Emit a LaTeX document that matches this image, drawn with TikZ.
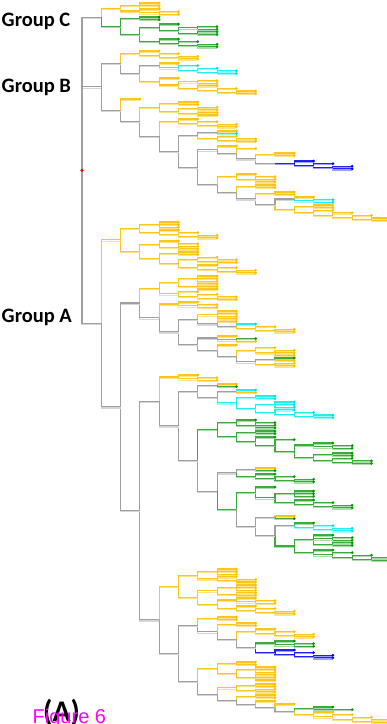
\documentclass[tikz,border=0pt]{standalone}
\usepackage{fontspec}
\setmainfont{Carlito}
\newfontfamily\figfont{Liberation Sans}

\pgfdeclarelayer{dots}
\pgfsetlayers{main,dots}

\definecolor{lnY}{HTML}{FFC61A}
\definecolor{paY}{HTML}{FFE38C}
\definecolor{dtY}{HTML}{FFC000}
\definecolor{lnG}{HTML}{3DAA3D}
\definecolor{paG}{HTML}{A8DCA8}
\definecolor{dtG}{HTML}{009900}
\definecolor{lnC}{HTML}{1EEFEF}
\definecolor{paC}{HTML}{A0FAFA}
\definecolor{dtC}{HTML}{00E0E0}
\definecolor{lnB}{HTML}{2020FF}
\definecolor{paB}{HTML}{9E9EFF}
\definecolor{dtB}{HTML}{0000FF}
\definecolor{lnA}{HTML}{A0A0A0}
\definecolor{paA}{HTML}{D6D6D6}
\definecolor{mag}{HTML}{FF00FF}

\tikzset{
  ey/.style={draw=lnY, line width=1.1pt},
  eg/.style={draw=lnG, line width=1.1pt},
  ec/.style={draw=lnC, line width=1.1pt},
  eb/.style={draw=lnB, line width=1.1pt},
  ea/.style={draw=lnA, line width=1.1pt},
  uy/.style={draw=paY, line width=1.1pt, transform canvas={yshift=-1.2pt}},
  ug/.style={draw=paG, line width=1.1pt, transform canvas={yshift=-1.2pt}},
  uc/.style={draw=paC, line width=1.1pt, transform canvas={yshift=-1.2pt}},
  ub/.style={draw=paB, line width=1.1pt, transform canvas={yshift=-1.2pt}},
  ua/.style={draw=paA, line width=1.1pt, transform canvas={yshift=-1.2pt}},
  dy/.style={fill=dtY},
  dg/.style={fill=dtG},
  dc/.style={fill=dtC},
  db/.style={fill=dtB},
  grplabel/.style={font=\fontsize{20.5}{24}\selectfont\bfseries, inner sep=0pt, anchor=base west},
}

% tree helpers: \Nd{colour}{children}, \Lf{colour}, \Yat{y}
\newcount\nid
\newcount\dep
\newdimen\ypos
\def\lstep{2.6pt}
\def\xorg{82}
\def\stepx{19.3}
\def\curpar{top}
\def\regkid{%
  \expandafter\ifx\csname first@\curpar\endcsname\relax
    \expandafter\xdef\csname first@\curpar\endcsname{\me}%
  \fi
  \expandafter\xdef\csname last@\curpar\endcsname{\me}%
  \expandafter\xdef\csname kids@\curpar\endcsname{%
    \unexpanded\expandafter\expandafter\expandafter{\csname kids@\curpar\endcsname}%
    \noexpand\do{\me}}}
\newcommand\Yat[1]{\global\ypos=#1pt\relax}
\newcommand\Lf[1]{%
  \global\advance\nid by 1
  \begingroup
    \edef\me{n\the\nid}%
    \regkid
    \expandafter\xdef\csname col@\me\endcsname{#1}%
    \pgfmathsetmacro\yy{\ypos}%
    \expandafter\xdef\csname y@\me\endcsname{\yy}%
    \pgfmathsetmacro\xx{\xorg+\the\dep*\stepx}%
    \coordinate (\me) at (\xx,-\yy);
    \global\advance\ypos by \lstep
    \begin{pgfonlayer}{dots}
      \fill[d#1] (\me) circle (1.5);
    \end{pgfonlayer}
  \endgroup}
\newcommand\Nd[2]{%
  \global\advance\nid by 1
  \begingroup
    \edef\me{n\the\nid}%
    \regkid
    \expandafter\xdef\csname col@\me\endcsname{#1}%
    \expandafter\gdef\csname kids@\me\endcsname{}%
    \let\curpar\me
    \advance\dep by 1
    #2%
    \advance\dep by -1
    \edef\kf{\csname first@\me\endcsname}%
    \edef\kl{\csname last@\me\endcsname}%
    \edef\ya{\csname y@\kf\endcsname}%
    \edef\yb{\csname y@\kl\endcsname}%
    \pgfmathsetmacro\yy{(\ya+\yb)/2}%
    \expandafter\xdef\csname y@\me\endcsname{\yy}%
    \pgfmathsetmacro\xx{\xorg+\the\dep*\stepx}%
    \coordinate (\me) at (\xx,-\yy);
    \def\do##1{\edef\tmp{%
      \noexpand\draw[u\csname col@##1\endcsname] (\me) |- (##1);%
      \noexpand\draw[e\csname col@##1\endcsname] (\me) |- (##1);}\tmp}%
    \csname kids@\me\endcsname
  \endgroup}

\begin{document}
\begin{tikzpicture}[x=1pt,y=1pt]
\useasboundingbox (0,0) rectangle (387,-724);

\Yat{3}
\Nd{a}{%
  % Group C
  \Nd{a}{%
    \Nd{y}{%
      \Nd{y}{\Lf y\Lf y\Lf y}%
      \Yat{9}\Nd{y}{\Lf y\Nd{y}{\Lf y\Lf y}}%
    }%
    \Nd{g}{%
      \Yat{17}\Nd{g}{\Lf g\Lf g}%
      \Nd{g}{%
        \Yat{24}\Nd{g}{\Lf g\Nd{g}{\Nd{g}{\Lf g\Lf g}\Nd{g}{\Lf g\Lf g}}}%
        \Yat{39}\Nd{g}{\Lf g\Nd{g}{\Lf g\Nd{g}{\Lf g\Lf g}}}%
      }%
    }%
  }%
  % Group B
  \Nd{a}{%
    \Nd{a}{%
      \Yat{51}\Nd{y}{\Lf y\Nd{y}{\Lf y\Nd{y}{\Lf y\Lf y}}}%
      \Nd{a}{%
        \Yat{63}\Nd{a}{\Lf y\Nd{c}{\Lf c\Nd{c}{\Lf c\Nd{c}{\Lf c\Lf c}}}}%
        \Yat{78}\Nd{y}{\Lf y\Nd{y}{\Nd{y}{\Lf y\Lf y}\Nd{y}{\Lf y\Nd{y}{\Lf y\Nd{y}{\Lf y\Lf y}}}}}%
      }%
    }%
    \Nd{a}{%
      \Yat{99}\Lf y%
      \Nd{a}{%
        \Yat{102}\Nd{y}{\Nd{y}{\Lf y\Lf y}\Nd{y}{\Nd{y}{\Lf y\Lf y}\Nd{y}{\Lf y\Lf y}}}%
        \Nd{a}{%
          \Yat{119}\Nd{y}{\Lf y\Nd{y}{\Lf y\Nd{y}{\Lf y\Lf y}}}%
          \Nd{a}{%
            \Yat{131}\Nd{a}{\Nd{a}{\Lf y\Lf c}\Nd{y}{\Lf y\Nd{y}{\Lf y\Lf y}}}%
            \Nd{a}{%
              \Nd{a}{%
                \Yat{146}\Lf y%
                \Nd{a}{%
                  \Lf y%
                  \Nd{a}{%
                    \Yat{153}\Nd{y}{\Lf y\Lf y}%
                    \Nd{a}{\Yat{161}\Nd{b}{\Lf b\Nd{b}{\Lf b\Nd{b}{\Lf b\Lf b}}}}%
                  }%
                }%
              }%
              \Nd{a}{%
                \Yat{174}\Nd{y}{\Lf y\Nd{y}{\Lf y\Lf y\Lf y}}%
                \Nd{a}{%
                  \Yat{185}\Nd{y}{\Lf y\Lf y}%
                  \Nd{a}{%
                    \Yat{192}\Nd{y}{\Lf y\Lf y}%
                    \Nd{a}{%
                      \Yat{197}\Nd{a}{\Lf y\Nd{c}{\Lf c\Lf c}}%
                      \Yat{205}\Nd{y}{\Nd{y}{\Lf y\Lf y}\Nd{y}{\Lf y\Nd{y}{\Lf y\Nd{y}{\Lf y\Nd{y}{\Lf y\Lf y}}}}}%
                    }%
                  }%
                }%
              }%
            }%
          }%
        }%
      }%
    }%
  }%
  % Group A
  \Nd{a}{%
    \Nd{y}{%
      \Nd{y}{%
        \Yat{222}\Nd{y}{\Lf y\Lf y\Lf y}%
        \Yat{230}\Nd{y}{\Lf y\Nd{y}{\Lf y\Nd{y}{\Lf y\Lf y}}}%
      }%
      \Nd{y}{%
        \Yat{241}\Nd{y}{\Lf y\Nd{y}{\Lf y\Lf y\Lf y\Lf y}}%
        \Nd{y}{%
          \Yat{252}\Nd{y}{\Lf y\Lf y}%
          \Nd{y}{%
            \Nd{y}{\Lf y\Nd{y}{\Lf y\Lf y}}%
            \Nd{y}{\Lf y\Nd{y}{\Lf y\Nd{y}{\Lf y\Lf y}}}%
          }%
        }%
      }%
    }%
    \Nd{a}{%
      \Nd{a}{%
        \Yat{276}\Nd{y}{%
          \Nd{y}{\Nd{y}{\Lf y\Lf y\Lf y}\Nd{y}{\Lf y\Lf y\Lf y}}%
          \Nd{y}{\Lf y\Nd{y}{\Lf y\Nd{y}{\Lf y\Lf y}}}%
        }%
        \Nd{a}{%
          \Yat{302}\Nd{y}{\Lf y\Nd{y}{\Lf y\Lf y}}%
          \Nd{a}{%
            \Nd{a}{%
              \Yat{311}\Nd{y}{\Lf y\Lf y\Lf y\Lf y}%
              \Nd{a}{\Lf y\Nd{a}{\Lf c\Nd{y}{\Lf y\Nd{y}{\Lf y\Lf y}}}}%
            }%
            \Nd{a}{%
              \Yat{336}\Nd{a}{\Lf y\Nd{a}{\Lf g\Lf y}}%
              \Nd{a}{%
                \Yat{345}\Lf y%
                \Nd{a}{%
                  \Nd{y}{\Lf y\Nd{y}{\Lf y\Lf y\Lf y}}%
                  \Nd{a}{\Nd{a}{\Lf g\Lf y}\Nd{y}{\Lf y\Lf y}}%
                }%
              }%
            }%
          }%
        }%
      }%
      \Nd{a}{%
        \Nd{a}{%
          \Yat{375}\Nd{y}{\Lf y\Nd{y}{\Lf y\Lf y}}%
          \Nd{a}{%
            \Nd{a}{%
              \Yat{384}\Nd{a}{\Lf y\Lf g}%
              \Nd{a}{%
                \Yat{390}\Nd{a}{\Lf c\Lf y}%
                \Nd{c}{%
                  \Yat{396}\Nd{c}{\Lf c\Lf c}%
                  \Nd{c}{%
                    \Yat{402}\Nd{c}{\Lf c\Lf c\Lf c}%
                    \Nd{c}{\Lf c\Nd{c}{\Lf c\Nd{c}{\Lf c\Lf c}}}%
                  }%
                }%
              }%
            }%
            \Nd{a}{%
              \Nd{g}{%
                \Yat{420}\Nd{g}{\Lf g\Nd{g}{\Lf g\Lf g\Lf g}}%
                \Nd{g}{%
                  \Yat{431}\Nd{g}{\Lf g\Lf g}%
                  \Nd{g}{%
                    \Yat{437}\Lf g%
                    \Nd{g}{%
                      \Lf g%
                      \Nd{g}{%
                        \Yat{443}\Nd{g}{\Lf g\Nd{g}{\Lf g\Lf g}}%
                        \Yat{453}\Nd{g}{\Nd{g}{\Lf g\Lf g}\Nd{g}{\Lf g\Nd{g}{\Lf g\Lf g}}}%
                      }%
                    }%
                  }%
                }%
              }%
              \Nd{a}{%
                \Nd{a}{%
                  \Yat{468}\Nd{a}{\Lf y\Lf g}%
                  \Nd{g}{\Yat{474}\Lf g\Nd{g}{\Lf g\Nd{g}{\Lf g\Lf g}}}%
                }%
                \Nd{g}{%
                  \Nd{g}{%
                    \Yat{487}\Lf g%
                    \Nd{g}{%
                      \Yat{491}\Nd{g}{\Lf g\Lf g\Lf g}%
                      \Nd{g}{\Yat{500}\Lf g\Nd{g}{\Lf g\Nd{g}{\Lf g\Lf g}}}%
                    }%
                  }%
                  \Nd{a}{%
                    \Yat{516}\Nd{a}{\Lf y\Lf g}%
                    \Nd{a}{%
                      \Yat{523}\Nd{a}{\Lf g\Nd{c}{\Lf c\Nd{c}{\Lf c\Lf c}}}%
                      \Nd{g}{%
                        \Yat{535}\Nd{g}{\Lf g\Nd{g}{\Lf g\Lf g}\Nd{g}{\Lf g\Lf g}}%
                        \Nd{g}{\Yat{550}\Lf g\Nd{g}{\Lf g\Nd{g}{\Lf g\Nd{g}{\Lf g\Lf g}}}}%
                      }%
                    }%
                  }%
                }%
              }%
            }%
          }%
        }%
        \Nd{a}{%
          \Nd{y}{%
            \Nd{y}{%
              \Yat{569}\Nd{y}{\Lf y\Lf y\Lf y}%
              \Nd{y}{\Lf y\Nd{y}{\Lf y\Lf y}}%
            }%
            \Nd{y}{%
              \Yat{585}\Nd{y}{\Nd{y}{\Lf y\Lf y\Lf y}\Nd{y}{\Lf y\Lf y}}%
              \Nd{y}{%
                \Yat{598}\Nd{y}{\Lf y\Nd{y}{\Lf y\Lf y}}%
                \Nd{y}{\Yat{606}\Lf y\Nd{y}{\Lf y\Nd{y}{\Lf y\Lf y}}}%
              }%
            }%
          }%
          \Nd{a}{%
            \Nd{a}{%
              \Yat{617}\Nd{y}{\Lf y\Lf y}%
              \Nd{a}{%
                \Yat{623}\Nd{y}{\Lf y\Lf y}%
                \Nd{a}{%
                  \Yat{629}\Nd{y}{\Lf y\Nd{y}{\Lf y\Nd{y}{\Lf y\Lf y}}}%
                  \Nd{a}{%
                    \Yat{641}\Nd{g}{\Lf g\Nd{g}{\Lf g\Lf g}}%
                    \Nd{b}{\Yat{650}\Lf b\Nd{b}{\Lf b\Nd{b}{\Lf b\Lf b}}}%
                  }%
                }%
              }%
            }%
            \Nd{a}{%
              \Nd{y}{%
                \Yat{662}\Nd{y}{\Lf y\Lf y}%
                \Nd{y}{\Yat{667}\Nd{y}{\Lf y\Lf y\Lf y}\Nd{y}{\Lf y\Lf y\Lf y}}%
              }%
              \Nd{a}{%
                \Yat{684}\Nd{y}{\Nd{y}{\Lf y\Lf y}\Nd{y}{\Lf y\Lf y}}%
                \Nd{a}{%
                  \Yat{695}\Nd{y}{\Lf y\Lf y}%
                  \Nd{a}{%
                    \Yat{701}\Lf y%
                    \Nd{a}{%
                      \Yat{704}\Lf y%
                      \Nd{a}{%
                        \Yat{707}\Nd{g}{\Lf g\Nd{g}{\Lf g}}%
                        \Nd{y}{\Yat{712}\Lf y\Nd{y}{\Lf y\Nd{y}{\Lf y\Nd{y}{\Lf y\Lf y}}}}%
                      }%
                    }%
                  }%
                }%
              }%
            }%
          }%
        }%
      }%
    }%
  }%
}%

\begin{pgfonlayer}{dots}
  \fill[red] (n1) circle (1.8);
\end{pgfonlayer}

\node[grplabel] (grpC) at (1.5,-26) {Group C};
\node[grplabel] (grpB) at (1.5,-92) {Group B};
\node[grplabel] (grpA) at (1.5,-322) {Group A};
\node[font=\fontsize{30}{34}\selectfont\bfseries, inner sep=0pt, anchor=base west] (panel) at (43,-721) {(A)};
\node[font=\figfont\fontsize{20}{24}\selectfont, text=mag, inner sep=0pt, anchor=base west] (figno) at (32.5,-723) {Figure 6};
\end{tikzpicture}
\end{document}
